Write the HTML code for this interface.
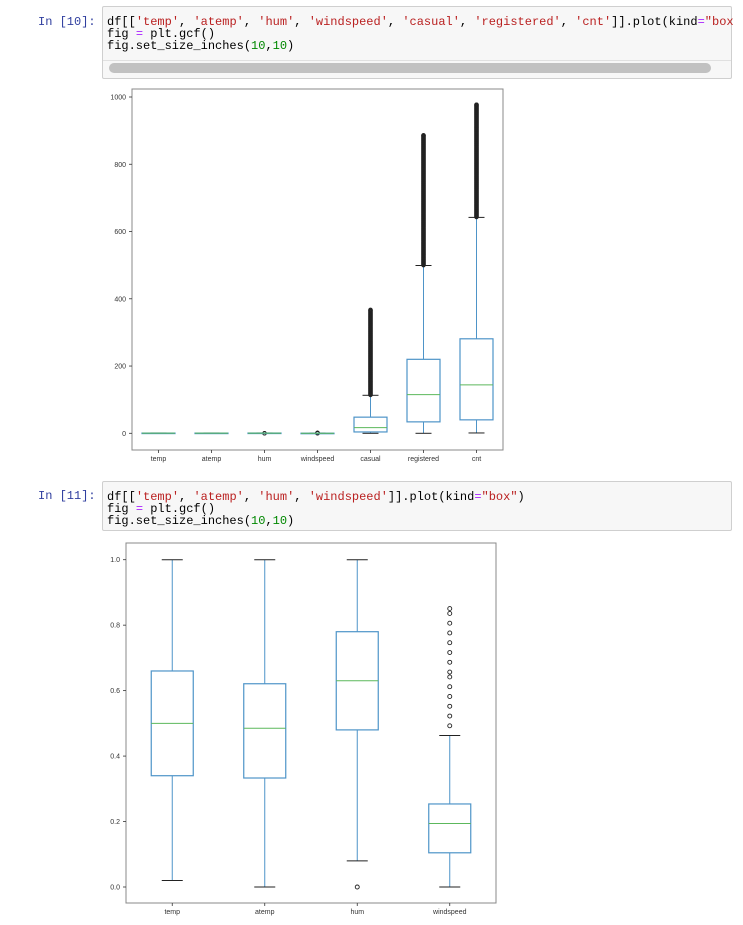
<!DOCTYPE html>
<html><head><meta charset="utf-8">
<style>
body{margin:0;width:743px;height:925px;background:#fff;position:relative;overflow:hidden;font-family:"Liberation Sans",sans-serif}
.prompt{position:absolute;left:38px;font:12px "Liberation Mono",monospace;color:#303f9f}
.cell{position:absolute;left:102px;width:630px;background:#f7f7f7;border:1px solid #cfcfcf;border-radius:2px;box-sizing:border-box}
.code{font:12px/12px "Liberation Mono",monospace;color:#000;padding:9px 0 0 4px;white-space:pre}
.s{color:#ba2121}.k{color:#aa22ff}.n{color:#080}
svg{position:absolute;left:0;top:0}
</style></head><body>
<div class="prompt" style="top:15px">In [10]:</div>
<div class="cell" style="top:6px;height:73px">
<div class="code">df[[<span class="s">'temp'</span>, <span class="s">'atemp'</span>, <span class="s">'hum'</span>, <span class="s">'windspeed'</span>, <span class="s">'casual'</span>, <span class="s">'registered'</span>, <span class="s">'cnt'</span>]].plot(kind<span class="k">=</span><span class="s">"box</span>
fig <span class="k">=</span> plt.gcf()
fig.set_size_inches(<span class="n">10</span>,<span class="n">10</span>)</div>
<div style="position:absolute;left:6px;top:56px;width:602px;height:10px;background:#c1c1c1;border-radius:5px"></div>
<div style="position:absolute;left:0;right:0;top:53px;border-top:1px solid #e0e0e0"></div>
</div>
<div class="prompt" style="top:489px">In [11]:</div>
<div class="cell" style="top:481px;height:50px">
<div class="code">df[[<span class="s">'temp'</span>, <span class="s">'atemp'</span>, <span class="s">'hum'</span>, <span class="s">'windspeed'</span>]].plot(kind<span class="k">=</span><span class="s">"box"</span>)
fig <span class="k">=</span> plt.gcf()
fig.set_size_inches(<span class="n">10</span>,<span class="n">10</span>)</div>
</div>
<svg id="svg" width="743" height="925" xmlns="http://www.w3.org/2000/svg"></svg>
<script>
// Chart 1 data
const cats1 = ['temp','atemp','hum','windspeed','casual','registered','cnt'];
const lo1 = [0.02,0,0.08,0,0,0,1];
const q1_1 = [0.34,0.33,0.48,0.1,4,34,40];
const med1 = [0.5,0.48,0.63,0.19,17,115,144];
const q3_1 = [0.66,0.62,0.78,0.25,48,220,281];
const hi1 = [1,1,1,0.46,113,499,642];
const flierMin1 = [null,null,0,0.49,114,500,643];
const flierMax1 = [null,null,0,0.85,367,886,977];
const ticks1 = [0,200,400,600,800,1000];
// Chart 2 data
const cats2 = ['temp','atemp','hum','windspeed'];
const lo2 = [0.02,0,0.08,0];
const q1_2 = [0.34,0.333,0.48,0.1045];
const med2 = [0.5,0.485,0.63,0.194];
const q3_2 = [0.66,0.621,0.78,0.2537];
const hi2 = [1,1,1,0.4627];
const fliers2 = [[],[],[0],[0.4925,0.5224,0.5522,0.5821,0.6119,0.6418,0.6567,0.6866,0.7164,0.7463,0.7761,0.806,0.8358,0.8507]];
const ticks2 = ['0.0','0.2','0.4','0.6','0.8','1.0'];

const svg=document.getElementById('svg');
const NS='http://www.w3.org/2000/svg';
function mk(tag,at,name){const e=document.createElementNS(NS,tag);for(const k in at)e.setAttribute(k,at[k]);


svg.appendChild(e);return e;}

function chart(cfg){
  const {L,T,R,B,y0,y1,vmax,cats,lo,q1,med,q3,hi,fl,ticks,tickVals,bw,cap,pfx,fr}=cfg;
  mk('rect',{x:L,y:T,width:R-L,height:B-T,fill:'#fff',stroke:'#888','stroke-width':1},pfx+'axes-frame');
  const Y=v=>y0-(v/vmax)*(y0-y1);
  const step=(R-L)/cats.length;
  const X=i=>L+step*(i+0.5);
  tickVals.forEach((v,i)=>{
    mk('line',{x1:L-3,x2:L,y1:Y(v),y2:Y(v),stroke:'#333','stroke-width':0.8},pfx+'y-tick');
    const t=mk('text',{x:L-6,y:Y(v)+2.5,'font-size':7,'text-anchor':'end',fill:'#333'},pfx+'y-tick-label');t.textContent=ticks[i];
  });
  cats.forEach((c,i)=>{
    const x=X(i);
    mk('line',{x1:x,x2:x,y1:B,y2:B+3,stroke:'#333','stroke-width':0.8},pfx+'x-tick');
    const t=mk('text',{x:x,y:B+11,'font-size':7,'text-anchor':'middle',fill:'#333'},pfx+'x-tick-label');t.textContent=c;
    const col='#4e94c8';
    mk('line',{x1:x,x2:x,y1:Y(lo[i]),y2:Y(q1[i]),stroke:col,'stroke-width':1},pfx+'whisker-low-'+c);
    mk('line',{x1:x,x2:x,y1:Y(q3[i]),y2:Y(hi[i]),stroke:col,'stroke-width':1},pfx+'whisker-high-'+c);
    mk('line',{x1:x-cap/2,x2:x+cap/2,y1:Y(lo[i]),y2:Y(lo[i]),stroke:'#222','stroke-width':1},pfx+'cap-low-'+c);
    mk('line',{x1:x-cap/2,x2:x+cap/2,y1:Y(hi[i]),y2:Y(hi[i]),stroke:'#222','stroke-width':1},pfx+'cap-high-'+c);
    fl(i).forEach(v=>mk('circle',{cx:x,cy:Y(v),r:fr,fill:'none',stroke:'#222','stroke-width':0.9},pfx+'flier-'+c));
    mk('rect',{x:x-bw/2,y:Y(q3[i]),width:bw,height:Math.max(0.5,Y(q1[i])-Y(q3[i])),fill:'none',stroke:col,'stroke-width':1.2},pfx+'box-'+c);
    mk('line',{x1:x-bw/2,x2:x+bw/2,y1:Y(med[i]),y2:Y(med[i]),stroke:'#5cb85c','stroke-width':1},pfx+'median-'+c);
  });
}
chart({L:132,T:89,R:503,B:450,y0:433.3,y1:97,vmax:1000,cats:cats1,lo:lo1,q1:q1_1,med:med1,q3:q3_1,hi:hi1,
  fl:i=>{if(flierMin1[i]===null)return[];const a=[];const s=(flierMax1[i]-flierMin1[i])>10?2:0.05;for(let v=flierMin1[i];v<=flierMax1[i];v+=s)a.push(v);a.push(flierMax1[i]);return a;},
  ticks:ticks1.map(String),tickVals:ticks1,bw:33,cap:16,pfx:'c1-',fr:1.8});
chart({L:126,T:543,R:496,B:903,y0:887,y1:559.7,vmax:1,cats:cats2,lo:lo2,q1:q1_2,med:med2,q3:q3_2,hi:hi2,
  fl:i=>fliers2[i],ticks:ticks2,tickVals:ticks2.map(Number),bw:42,cap:21,pfx:'c2-',fr:2});
</script>
</body></html>
